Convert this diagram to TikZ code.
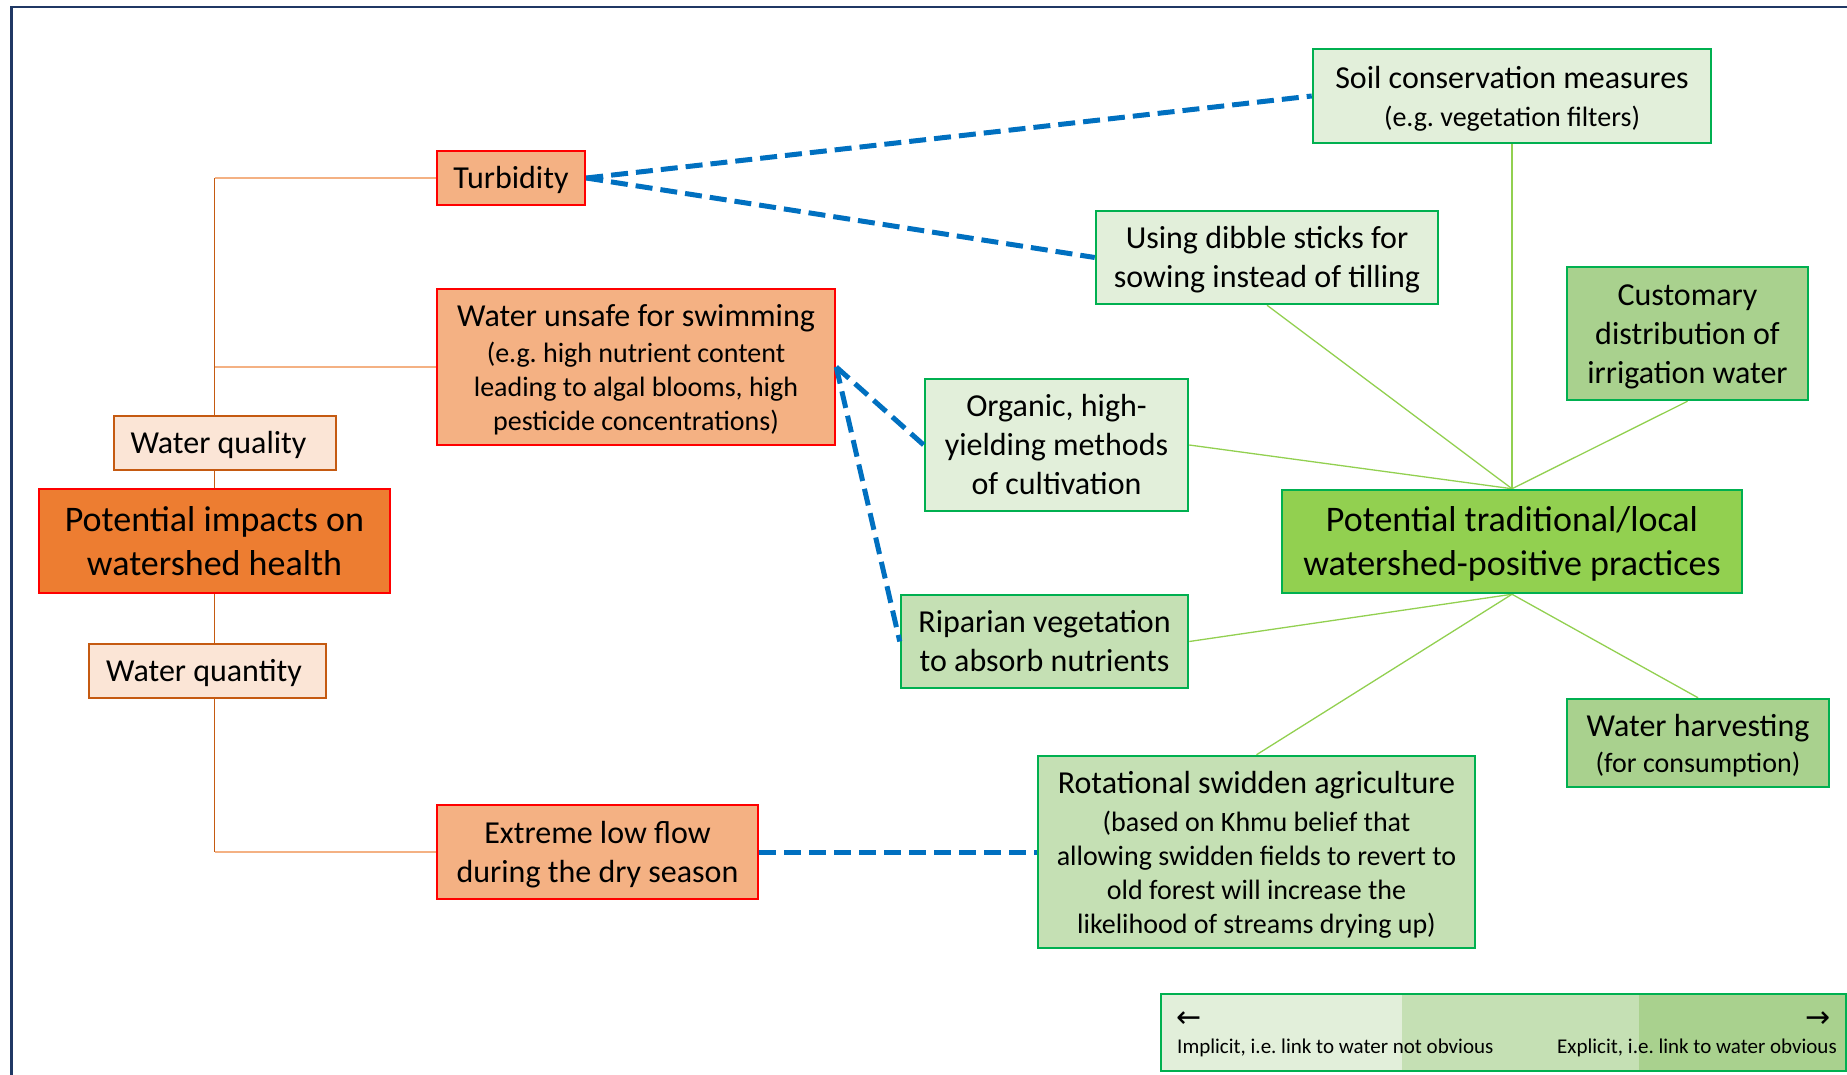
\documentclass[tikz,border=0pt]{standalone}
\usepackage{fontspec}
\setmainfont{Carlito}
\newfontfamily\dejavu{DejaVu Sans}
\usetikzlibrary{backgrounds}
\frenchspacing
\definecolor{frameblue}{HTML}{203864}
\definecolor{redb}{HTML}{FF0000}
\definecolor{orgdark}{HTML}{ED7D31}
\definecolor{orgmid}{HTML}{F4B183}
\definecolor{orglight}{HTML}{FBE5D6}
\definecolor{orgline}{HTML}{C55A11}
\definecolor{grnb}{HTML}{00B050}
\definecolor{grnstrong}{HTML}{92D050}
\definecolor{grnlight}{HTML}{E2EFDA}
\definecolor{grnmid}{HTML}{C5E0B4}
\definecolor{grndark}{HTML}{A9D18E}
\definecolor{dashblue}{HTML}{0070C0}
\newcommand\szBig{\fontsize{36}{44}\selectfont}
\newcommand\szMain{\fontsize{32}{39}\selectfont}
\newcommand\szSub{\fontsize{28}{34}\selectfont}
\newcommand\szLeg{\fontsize{21}{25}\selectfont}
\newcommand\tpS{\rule{0pt}{0.952em}}
\newcommand\btS{\rule[-0.269em]{0pt}{0.269em}}
\tikzset{
  box/.style={draw, rectangle, inner sep=0pt, align=center, line width=2.5pt, text=black},
  impact/.style={box, draw=redb, fill=orgmid, font=\szMain},
  impactmain/.style={box, draw=redb, fill=orgdark, font=\szBig},
  category/.style={box, draw=orgline, fill=orglight, font=\szMain},
  practice/.style={box, draw=grnb, font=\szMain},
  practicemain/.style={box, draw=grnb, fill=grnstrong, font=\szBig},
  link/.style={draw=dashblue, line width=5pt, dash pattern=on 17pt off 8pt},
  spoke/.style={draw=grnstrong, line width=1.3pt},
  treeh/.style={draw=orgmid, line width=2pt},
  treev/.style={draw=orgline, line width=1.3pt},
  legarrow/.style={font=\dejavu\fontsize{30}{34}\selectfont, inner sep=0pt},
}
\begin{document}
\begin{tikzpicture}[x=1pt, y=-1pt]
\useasboundingbox (0,0) rectangle (1847,1075);
\draw[frameblue, line width=2.5pt] (11.5,1075) -- (11.5,7) -- (1847,7);

% impacts side
\node[impact, minimum width=148pt, minimum height=54pt] (turb) at (511,178) {\tpS Turbidity\btS};
\node[impact, font=\szSub, minimum width=398pt, minimum height=156pt] (unsafe) at (636,367)
  {{\szMain\tpS Water unsafe for swimming}\\[2pt](e.g. high nutrient content\\leading to algal blooms, high\\pesticide concentrations)\btS};
\node[category, minimum width=222pt, minimum height=54pt] (wq) at (225,443) {\tpS Water quality\btS\kern13pt};
\node[impactmain, minimum width=351pt, minimum height=104pt] (pi) at (214.5,541) {\tpS Potential impacts on\\watershed health\btS};
\node[category, minimum width=237pt, minimum height=54pt] (wqn) at (207.5,671) {\tpS Water quantity\btS\kern7pt};
\node[impact, minimum width=321pt, minimum height=94pt] (xflow) at (597.5,852) {\tpS Extreme low flow\\during the dry season\btS};

% practices side
\node[practice, fill=grnlight, font=\szSub, minimum width=398pt, minimum height=94pt] (soil) at (1512,96)
  {{\szMain\tpS Soil conservation measures}\\[4pt](e.g. vegetation filters)\btS};
\node[practice, fill=grnlight, minimum width=342pt, minimum height=93pt] (dibble) at (1267,257.5)
  {\tpS Using dibble sticks for\\sowing instead of tilling\btS};
\node[practice, fill=grndark, minimum width=241pt, minimum height=133pt] (cust) at (1687.5,333.5)
  {\tpS Customary\\distribution of\\irrigation water\btS};
\node[practice, fill=grnlight, minimum width=263pt, minimum height=132pt] (organic) at (1056.5,445)
  {\tpS Organic, high-\\yielding methods\\of cultivation\btS};
\node[practicemain, minimum width=460pt, minimum height=103pt] (pt) at (1512,541.5)
  {\tpS Potential traditional/local\\watershed-positive practices\btS};
\node[practice, fill=grnmid, minimum width=287pt, minimum height=93pt] (ripar) at (1044.5,641.5)
  {\tpS Riparian vegetation\\to absorb nutrients\btS};
\node[practice, fill=grndark, font=\szSub, minimum width=262pt, minimum height=88pt] (harvest) at (1698,743)
  {{\szMain\tpS Water harvesting}\\[2pt](for consumption)\btS};
\node[practice, fill=grnmid, font=\szSub, minimum width=437pt, minimum height=192pt] (rot) at (1256.5,852)
  {{\szMain\tpS Rotational swidden agriculture}\\[4pt](based on Khmu belief that\\allowing swidden fields to revert to\\old forest will increase the\\likelihood of streams drying up)\btS};

\begin{scope}[on background layer]
  % impact tree
  \draw[treev] (pi.center |- turb.west) -- (pi.center |- xflow.west);
  \draw[treeh] (turb.west) -- (turb.west -| pi.center);
  \draw[treeh] (unsafe.west) -- (unsafe.west -| pi.center);
  \draw[treeh] (xflow.west) -- (xflow.west -| pi.center);
  % practice spokes
  \draw[spoke] (pt.north) -- (soil.south);
  \draw[spoke] (pt.north) -- (dibble.south);
  \draw[spoke] (pt.north) -- (cust.south);
  \draw[spoke] (pt.north) -- (organic.east);
  \draw[spoke] (pt.south) -- (ripar.east);
  \draw[spoke] (pt.south) -- (harvest.north);
  \draw[spoke] (pt.south) -- (rot.north);
\end{scope}

% links
\draw[link] (turb.east) -- (soil.west);
\draw[link] (turb.east) -- (dibble.west);
\draw[link] (unsafe.east) -- (organic.west);
\draw[link] (unsafe.east) -- (ripar.west);
\draw[link] (xflow.east) -- (rot.west);

% legend
\fill[grnlight] (1161,994) rectangle (1402,1071);
\fill[grnmid] (1402,994) rectangle (1639,1071);
\fill[grndark] (1639,994) rectangle (1846,1071);
\node[draw=grnb, line width=2pt, rectangle, inner sep=0pt, minimum width=685pt, minimum height=77pt] (legend) at (1503.5,1032.5) {};
\node[legarrow] (larrow) at (1189,1020) {←};
\node[legarrow] (rarrow) at (1818,1020) {→};
\node[font=\szLeg, inner sep=0pt, anchor=base west] (limp) at (1177,1053) {Implicit, i.e. link to water not obvious};
\node[font=\szLeg, inner sep=0pt, anchor=base east] (lexp) at (1837,1053) {Explicit, i.e. link to water obvious};
\end{tikzpicture}
\end{document}
